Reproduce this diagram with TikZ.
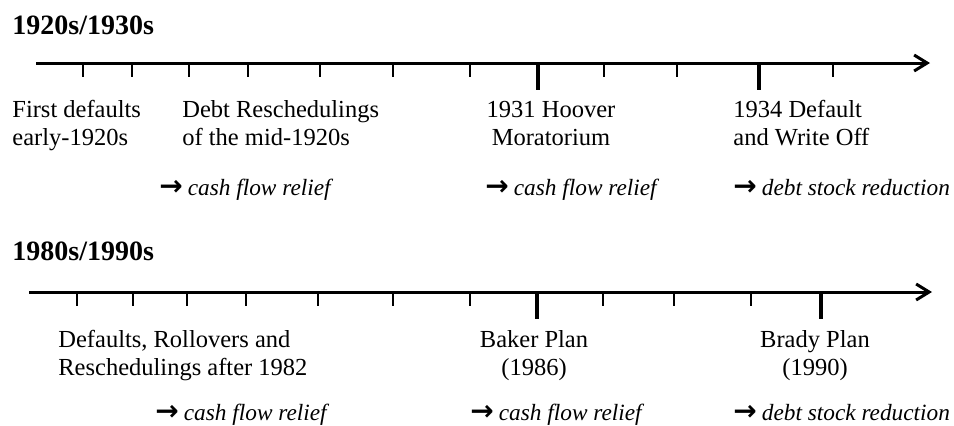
\documentclass[tikz,border=0pt]{standalone}
\usepackage{fontspec}
\setmainfont{Liberation Serif}
\newfontfamily\arrowfont{DejaVu Sans}
\usetikzlibrary{arrows.meta}
\begin{document}
\begin{tikzpicture}[x=0.5pt,y=-0.5pt,
  axis/.style={line width=1.5pt,-{Straight Barb[length=6.5pt,width=8pt]}},
  minortick/.style={line width=1pt},
  majortick/.style={line width=2pt},
  periodtitle/.style={inner sep=0pt,anchor=base west,font=\fontsize{14}{16}\selectfont\bfseries},
  lbl/.style={inner sep=0pt,anchor=base west,align=left,font=\fontsize{12.25}{14}\selectfont},
  clbl/.style={inner sep=0pt,anchor=base,align=center,font=\fontsize{12.25}{14}\selectfont},
  effect/.style={inner sep=0pt,anchor=base west,font=\fontsize{11.65}{14}\selectfont\itshape}]
\useasboundingbox (0,0) rectangle (954,425);
\newcommand{\effarrow}{{\arrowfont\bfseries\upshape\fontsize{14}{14}\selectfont →}\hspace{2.5pt}}
% ---------- 1920s/1930s ----------
\node[periodtitle] (t1) at (12,34) {1920s/1930s};
\coordinate (a1s) at (36,63);
\coordinate (a1e) at (930,63);
\draw[axis] (a1s) -- (a1e);
\foreach \x in {83,132,189,248,320,393,470,604,677,833}
  \draw[minortick] (\x,63) -- (\x,77);
\foreach \x in {538,759}
  \draw[majortick] (\x,63) -- (\x,90);
\node[lbl] (e1) at (12,145) {First defaults\\early-1920s};
\node[lbl] (e2) at (182,145) {Debt Reschedulings\\of the mid-1920s};
\node[clbl] (e3) at (551,145) {1931 Hoover\\Moratorium};
\node[lbl] (e4) at (733,145) {1934 Default\\and Write Off};
\node[effect] (f1) at (159,195) {\effarrow cash flow relief};
\node[effect] (f2) at (485,195) {\effarrow cash flow relief};
\node[effect] (f3) at (733,195) {\effarrow debt stock reduction};
% ---------- 1980s/1990s ----------
\node[periodtitle] (t2) at (12,260) {1980s/1990s};
\coordinate (a2s) at (29,292);
\coordinate (a2e) at (932,292);
\draw[axis] (a2s) -- (a2e);
\foreach \x in {77,133,187,246,318,393,470,603,674,751}
  \draw[minortick] (\x,292) -- (\x,306);
\foreach \x in {537,821}
  \draw[majortick] (\x,292) -- (\x,319);
\node[lbl] (g1) at (58,375) {Defaults, Rollovers and\\Reschedulings after 1982};
\node[clbl] (g2) at (534,375) {Baker Plan\\(1986)};
\node[clbl] (g3) at (815,375) {Brady Plan\\(1990)};
\node[effect] (h1) at (155,420) {\effarrow cash flow relief};
\node[effect] (h2) at (470,420) {\effarrow cash flow relief};
\node[effect] (h3) at (733,420) {\effarrow debt stock reduction};
\end{tikzpicture}
\end{document}
